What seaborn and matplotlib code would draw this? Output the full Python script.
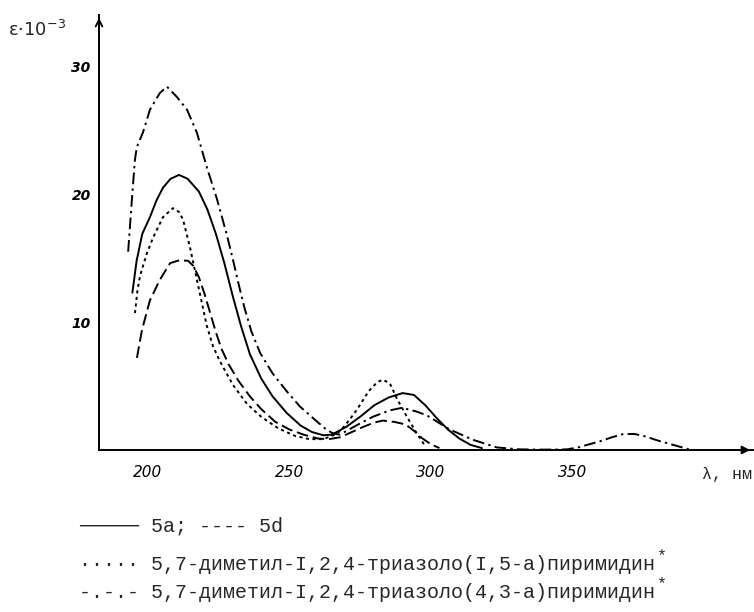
import matplotlib
matplotlib.use("Agg")
import matplotlib.pyplot as plt
import seaborn as sns

# ---- data: wavelength, nm  /  epsilon * 10^-3 ----
wl_5a = [194.5, 196, 198, 200.7, 203, 205.3, 208, 211, 214, 218, 221, 224, 227, 230, 233,
         236, 240, 244, 249, 254, 258, 262, 265, 270, 275, 280, 285, 290, 294, 298, 302,
         306, 310, 314, 318]
eps_5a = [12.3, 14.8, 16.9, 18.2, 19.5, 20.5, 21.2, 21.5, 21.2, 20.2, 18.8, 16.9, 14.6, 12.0, 9.6,
          7.5, 5.6, 4.2, 2.9, 1.9, 1.4, 1.15, 1.2, 1.8, 2.6, 3.5, 4.1, 4.45, 4.3, 3.5, 2.5,
          1.6, 0.9, 0.4, 0.15]

wl_5d = [196.1, 197.9, 200.7, 204.2, 207.8, 210.6, 214.1, 216, 218, 220, 222, 224, 226,
         228.5, 232, 236, 240, 245, 250, 255, 260, 264, 268, 272, 276, 280, 283, 287, 291,
         294, 297, 300, 303]
eps_5d = [7.2, 9.4, 11.7, 13.3, 14.6, 14.8, 14.8, 14.4, 13.5, 12.2, 10.7, 9.2, 7.9,
          6.7, 5.4, 4.2, 3.2, 2.2, 1.6, 1.2, 0.9, 0.85, 1.0, 1.4, 1.8, 2.15, 2.3, 2.2, 2.0,
          1.5, 0.9, 0.45, 0.15]

wl_15a = [195.4, 196.3, 197.2, 199.5, 201.8, 205.3, 208.8, 211, 212.4, 214.8, 217.3, 220.8,
          223, 225.5, 230, 235, 240, 246, 252, 257, 262, 266, 268, 271, 274, 278, 281, 283,
          285.5, 288, 291.5, 295, 298]
eps_15a = [10.7, 12.5, 13.6, 15.3, 16.6, 18.2, 18.9, 18.6, 18.0, 15.9, 13.3, 9.7,
           8.1, 6.9, 5.1, 3.6, 2.6, 1.7, 1.1, 0.85, 0.85, 1.2, 1.5, 2.3, 3.2, 4.6, 5.3, 5.5,
           5.2, 4.0, 2.6, 1.3, 0.3]

wl_43a = [193, 194.3, 195.4, 196.1, 198.2, 200.7, 204.2, 206.7, 210.2, 213.8, 217.3, 220.8,
          224.4, 227.9, 230, 232, 234, 236.5, 239.6, 244, 249, 253.7, 258.3, 263, 265.4, 267.8,
          273.9, 279.5, 285.5, 289.8, 295, 298.6, 303, 306.7, 314.8, 323.3, 331.4, 340, 348,
          352, 356, 360, 364, 368, 372, 376, 380, 384, 388, 392]
eps_43a = [15.5, 19.5, 22.7, 23.7, 24.8, 26.6, 27.9, 28.4, 27.6, 26.6, 24.8, 22.1,
           19.6, 16.8, 14.9, 13.0, 11.2, 9.3, 7.6, 6.0, 4.6, 3.4, 2.5, 1.6, 1.3, 1.2,
           1.95, 2.6, 3.1, 3.3, 3.0, 2.7, 2.1, 1.6, 0.8, 0.2, 0.05, 0.03, 0.05,
           0.2, 0.45, 0.7, 1.0, 1.25, 1.25, 1.05, 0.75, 0.5, 0.25, 0.0]

x_ticks = [200, 250, 300, 350]
y_ticks = [10, 20, 30]

legend_lines = [
    "───── 5a; ---- 5d",
    "····· 5,7-диметил-I,2,4-триазоло(I,5-а)пиримидин",
    "-.-.- 5,7-диметил-I,2,4-триазоло(4,3-а)пиримидин",
]

# ---- figure ----
sns.set_style("white")
W, H = 754, 612
fig = plt.figure(figsize=(W / 100, H / 100), dpi=100)
ax = fig.add_axes([99 / W, 1 - 450 / H, (753 - 99) / W, (450 - 15) / H])

lw = 1.4
sns.lineplot(x=wl_5a, y=eps_5a, ax=ax, color="black", lw=lw, linestyle="-")
sns.lineplot(x=wl_5d, y=eps_5d, ax=ax, color="black", lw=lw, linestyle=(0, (6, 2.5)))
sns.lineplot(x=wl_15a, y=eps_15a, ax=ax, color="black", lw=lw, linestyle=(0, (1.6, 1.8)))
sns.lineplot(x=wl_43a, y=eps_43a, ax=ax, color="black", lw=lw,
             linestyle=(0, (6, 2.2, 1.2, 2.2)))

ax.set_xlim(182.7, 413.8)
ax.set_ylim(0, 34)
for s in ["top", "right"]:
    ax.spines[s].set_visible(False)
for s in ["left", "bottom"]:
    ax.spines[s].set_linewidth(1.4)
    ax.spines[s].set_color("black")

ax.set_xticks(x_ticks)
ax.set_yticks(y_ticks)
ax.set_xticklabels([str(t) for t in x_ticks], fontsize=11, style="italic")
ax.set_yticklabels([str(t) for t in y_ticks], fontsize=10, style="italic", fontweight="bold")
ax.tick_params(axis="x", direction="out", length=3, width=1.3, pad=8, colors="black")
ax.tick_params(axis="y", direction="out", length=4.5, width=1.3, pad=1.5, colors="black")
ax.set_xlabel("")
ax.set_ylabel("")

# axis arrows
ax.annotate("", xy=(1.0, 0), xytext=(0.96, 0), xycoords="axes fraction",
            arrowprops=dict(arrowstyle="-|>", color="black", lw=1.3, mutation_scale=12),
            annotation_clip=False)
ax.annotate("", xy=(0, 1.0), xytext=(0, 0.95), xycoords="axes fraction",
            arrowprops=dict(arrowstyle="->", color="black", lw=1.3, mutation_scale=12),
            annotation_clip=False)

# axis titles
fig.text(8 / W, 1 - 30 / H, "ε·10$^{-3}$", fontsize=13, va="center", ha="left")
fig.text(702 / W, 1 - 474 / H, "λ, нм", fontsize=12, va="center", ha="left",
         family=["Liberation Mono", "DejaVu Sans Mono"])

# legend block (typed text)
mono = ["Liberation Mono", "DejaVu Sans Mono"]
ys = [526, 565, 593]
texts = []
for line, y in zip(legend_lines, ys):
    t = fig.text(79 / W, 1 - y / H, line, fontsize=14.4, va="center", ha="left", family=mono)
    texts.append((t, y))

fig.canvas.draw()
rend = fig.canvas.get_renderer()
for t, y in texts[1:]:
    bb = t.get_window_extent(renderer=rend)
    fig.text((bb.x1 + 2) / W, 1 - (y - 9) / H, "*", fontsize=12, va="center", ha="left",
             family=mono)

fig.savefig("out.png", dpi=100)
